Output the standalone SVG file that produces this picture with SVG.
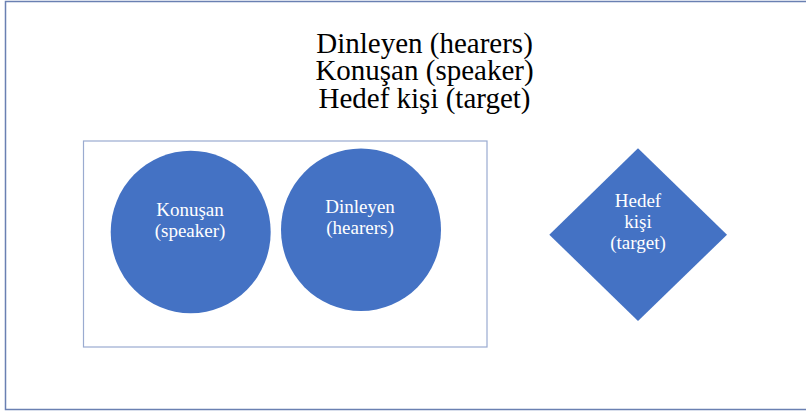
<svg xmlns="http://www.w3.org/2000/svg" width="806" height="412" viewBox="0 0 806 412">
<style>
.title{font-family:"Liberation Serif","Times New Roman",serif;font-size:29px;fill:#000;text-anchor:middle}
.lbl{font-family:"Liberation Serif","Times New Roman",serif;font-size:19px;fill:#fff;text-anchor:middle}
.shape{fill:#4472c4}
</style>
<rect x="5.5" y="1.5" width="806" height="408" fill="#fff" stroke="#6a80b2" stroke-width="1.5"/>
<g id="title">
<text class="title"><tspan x="424.5" y="52.5">Dinleyen (hearers)</tspan><tspan x="424.5" y="80">Konuşan (speaker)</tspan><tspan x="424.5" y="107.5">Hedef kişi (target)</tspan></text>
</g>
<g id="group-box">
<rect x="83.5" y="141" width="403.5" height="206" fill="none" stroke="#9aabd0" stroke-width="1.2"/>
</g>
<g id="speaker">
<ellipse class="shape" cx="190.7" cy="232" rx="80" ry="81.3"/>
<text class="lbl"><tspan x="190" y="215.7">Konuşan</tspan><tspan x="190" y="236.7">(speaker)</tspan></text>
</g>
<g id="hearers">
<ellipse class="shape" cx="361" cy="229.7" rx="80" ry="81.3"/>
<text class="lbl"><tspan x="360" y="212.7">Dinleyen</tspan><tspan x="360" y="233.5">(hearers)</tspan></text>
</g>
<g id="target">
<polygon class="shape" points="638,148.3 727,234.7 638,321 549.3,234.7"/>
<text class="lbl"><tspan x="638" y="207.3">Hedef</tspan><tspan x="638" y="228.3">kişi</tspan><tspan x="638" y="249.3">(target)</tspan></text>
</g>
<g id="connectors"/>
</svg>
